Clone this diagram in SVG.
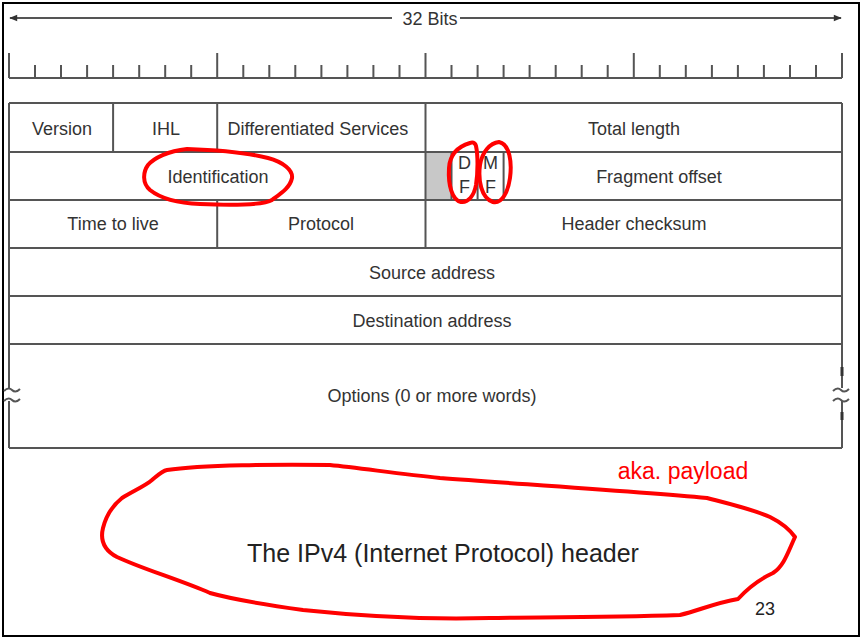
<svg xmlns="http://www.w3.org/2000/svg" width="862" height="638" viewBox="0 0 862 638">
<style>
.ln{stroke:#555;stroke-width:2;fill:none}
.t{font-family:"Liberation Sans",Arial,sans-serif;font-size:18px;fill:#333;text-anchor:middle}
.red{stroke:#f00;stroke-width:4;fill:none;stroke-linejoin:round;stroke-linecap:round}
</style>
<defs>
<marker id="ah" viewBox="0 0 10 10" refX="9" refY="5" markerWidth="10" markerHeight="8" markerUnits="userSpaceOnUse" orient="auto-start-reverse">
<path d="M0 1 L10 5 L0 9 Z" fill="#333"/>
</marker>
</defs>
<rect x="0" y="0" width="862" height="638" fill="#fff"/>
<rect x="3" y="3" width="856" height="633" fill="none" stroke="#000" stroke-width="2"/>

<g id="connectors">
<line class="ln" x1="10" y1="18" x2="392" y2="18" marker-start="url(#ah)"/>
<line class="ln" x1="460" y1="18" x2="841" y2="18" marker-end="url(#ah)"/>
</g>
<g id="bits-label">
<text class="t" x="430" y="24.5" font-size="19">32 Bits</text>
</g>

<g id="ruler" class="ln">
<line x1="9" y1="78" x2="842" y2="78"/>
<path d="M9 53V78 M35 65V78 M61 65V78 M87.1 65V78 M113.1 65V78 M139.2 65V78 M165.2 65V78 M191.2 65V78 M217.2 53V78 M243.3 65V78 M269.3 65V78 M295.3 65V78 M321.4 65V78 M347.4 65V78 M373.4 65V78 M399.5 65V78 M425.5 53V78 M451.5 65V78 M477.6 65V78 M503.6 65V78 M529.6 65V78 M555.7 65V78 M581.7 65V78 M607.7 65V78 M633.8 53V78 M659.8 65V78 M685.8 65V78 M711.9 65V78 M737.9 65V78 M763.9 65V78 M790 65V78 M816 65V78 M842 53V78"/>
</g>

<g id="table">
<rect x="425.5" y="152" width="26" height="48" fill="#c8c8c8"/>
<path class="ln" d="M9 103H842 M9 152H842 M9 200H842 M9 248H842 M9 296H842 M9 344H842 M9 448H842
M9 103V388 M9 401V448 M842 103V388 M842 401V448
M113.1 103V152 M217.2 103V152 M425.5 103V248 M217.2 200V248
M451.5 152V200 M477.6 152V200 M503.6 152V200"/>
<path class="ln" d="M4 391c3-3 6-3 8-1s5 2 8-1 M4 401c3-3 6-3 8-1s5 2 8-1"/>
<path class="ln" d="M833 391c3-3 6-3 8-1s5 2 8-1 M833 401c3-3 6-3 8-1s5 2 8-1"/>
<path stroke="#333" stroke-width="3" d="M842 367V376 M842 412V420"/>
</g>

<g id="version"><text class="t" x="62" y="135">Version</text></g>
<g id="ihl"><text class="t" x="166" y="135">IHL</text></g>
<g id="diffserv"><text class="t" x="318" y="135">Differentiated Services</text></g>
<g id="total-length"><text class="t" x="634" y="135">Total length</text></g>
<g id="identification"><text class="t" x="218" y="183">Identification</text></g>
<g id="df"><text class="t" x="464.5" y="169">D</text><text class="t" x="464.5" y="193">F</text></g>
<g id="mf"><text class="t" x="490.5" y="169">M</text><text class="t" x="490.5" y="193">F</text></g>
<g id="fragment-offset"><text class="t" x="659" y="183">Fragment offset</text></g>
<g id="ttl"><text class="t" x="113" y="230">Time to live</text></g>
<g id="protocol"><text class="t" x="321" y="230">Protocol</text></g>
<g id="checksum"><text class="t" x="634" y="230">Header checksum</text></g>
<g id="source"><text class="t" x="432" y="279">Source address</text></g>
<g id="destination"><text class="t" x="432" y="327">Destination address</text></g>
<g id="options"><text class="t" x="432" y="402">Options (0 or more words)</text></g>

<g id="caption">
<text x="443" y="562" font-family="Liberation Sans,Arial,sans-serif" font-size="25" fill="#222" text-anchor="middle">The IPv4 (Internet Protocol) header</text>
<text x="765" y="615" font-family="Liberation Sans,Arial,sans-serif" font-size="18" fill="#222" text-anchor="middle">23</text>
</g>
<g id="aka-payload">
<text x="683" y="479" font-family="Liberation Sans,Arial,sans-serif" font-size="23" fill="#f00" text-anchor="middle">aka. payload</text>
</g>

<g id="annotations" class="red">
<path d="M187 149 C215 150 245 152 268 158 C283 162 293 170 292 178 C290 188 280 194 272 200 C262 206 225 205 200 204 C175 203 160 198 150 190 C142 183 143 172 148 165 C154 158 168 151 187 149 Z"/>
<path d="M470 143 C460 146 450 152 449 168 C448 185 452 200 461 202 C468 203 474 196 476 185 C478 172 478 155 476 146 C475 142 472 142 470 143 Z"/>
<path d="M499 142 C490 143 482 152 480 165 C478 180 481 198 493 202 C502 204 508 192 510 178 C512 163 510 144 499 142 Z"/>
<path d="M167 470 C200 465 280 464 330 465 C360 468 400 474 440 478 C520 484 640 492 707 498 C730 504 755 510 770 517 C782 523 790 530 795 537 C788 552 784 566 773 573 C760 579 748 588 738 599 C715 603 700 610 680 615 C600 618 520 617 490 618 C420 620 360 616 303 610 C260 604 235 600 210 593 C180 580 140 568 117 557 C104 550 100 540 103 528 C106 516 112 506 122 498 C135 490 145 486 152 480 C158 475 162 471 167 470 Z"/>
</g>
</svg>
